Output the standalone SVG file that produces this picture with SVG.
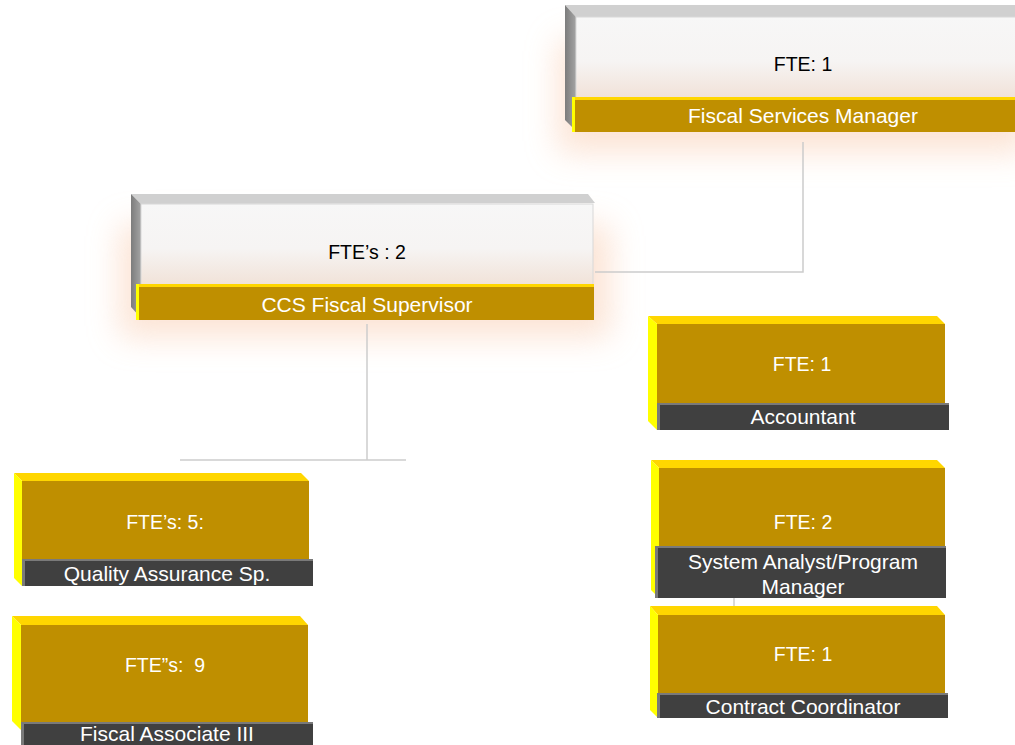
<svg xmlns="http://www.w3.org/2000/svg" width="1015" height="745" viewBox="0 0 1015 745">
  <defs>
    <linearGradient id="faceLight" x1="0" y1="0" x2="0" y2="1">
      <stop offset="0" stop-color="#f7f7f7"/>
      <stop offset="0.55" stop-color="#f6f4f3"/>
      <stop offset="1" stop-color="#f1e2d8"/>
    </linearGradient>
    <linearGradient id="bevelGray" x1="0" y1="0" x2="1" y2="0">
      <stop offset="0" stop-color="#7c7c7c"/>
      <stop offset="1" stop-color="#a4a4a4"/>
    </linearGradient>
    <filter id="glow" x="-20%" y="-40%" width="140%" height="180%">
      <feGaussianBlur stdDeviation="16"/>
    </filter>
    <style>
      .glow { fill: #fbd8c2; opacity: 0.7; filter: url(#glow); }
      .topL { fill: #d0d0d0; }
      .sideL { fill: url(#bevelGray); }
      .faceL { fill: url(#faceLight); stroke: #d8d8d8; stroke-width: 1; }
      .gold { fill: #bf8f00; }
      .topY { fill: #ffd600; }
      .sideY { fill: #ffff00; }
      .dark { fill: #404040; }
      .darkEdge { fill: #7a7a7a; }
      .conn { fill: none; stroke: #cccccc; stroke-width: 1.5; }
      text { font-family: "Liberation Sans", Arial, sans-serif; text-anchor: middle; white-space: pre; }
      .fteB { font-size: 19.5px; fill: #000000; }
      .fteW { font-size: 19.5px; fill: #ffffff; }
      .lbl { font-size: 21px; fill: #ffffff; }
    </style>
  </defs>

  <rect width="1015" height="745" fill="#ffffff"/>

  <!-- soft halos behind the two upper boxes -->
  <rect class="glow" x="558" y="40" width="470" height="112"/>
  <rect class="glow" x="120" y="225" width="490" height="112"/>

  <!-- connectors -->
  <g id="connectors">
    <path class="conn" d="M803 142 V272 H595"/>
    <path class="conn" d="M367 324 V460"/>
    <path class="conn" d="M180 460 H406"/>
    <path class="conn" d="M734 598 V606"/>
  </g>

  <!-- Fiscal Services Manager -->
  <g id="node-fiscal-services-manager">
    <polygon class="topL" points="565,5 1020,5 1020,17 576,17"/>
    <polygon class="sideL" points="565,5 576,17 576,131 565,120"/>
    <rect class="faceL" x="576" y="17" width="450" height="81"/>
    <rect class="gold" x="572" y="97" width="450" height="35"/>
    <rect class="topY" x="572" y="97" width="450" height="3"/>
    <rect class="sideY" x="572" y="97" width="3" height="35"/>
    <text class="fteB" x="803" y="71">FTE: 1</text>
    <text class="lbl" x="803" y="123">Fiscal Services Manager</text>
  </g>

  <!-- CCS Fiscal Supervisor -->
  <g id="node-ccs-fiscal-supervisor">
    <polygon class="topL" points="131,194 588,194 595,203 141,204"/>
    <polygon class="sideL" points="131,194 141,204 141,318 131,307"/>
    <rect class="faceL" x="141" y="204" width="452" height="81"/>
    <rect class="gold" x="136" y="284" width="458" height="36"/>
    <rect class="topY" x="136" y="284" width="458" height="3"/>
    <rect class="sideY" x="136" y="284" width="3" height="36"/>
    <text class="fteB" x="367" y="259">FTE’s : 2</text>
    <text class="lbl" x="367" y="312">CCS Fiscal Supervisor</text>
  </g>

  <!-- Accountant -->
  <g id="node-accountant">
    <polygon class="topY" points="648,316 937,316 945,324 657,324"/>
    <polygon class="sideY" points="648,316 657,324 657,430 648,421"/>
    <rect class="gold" x="657" y="324" width="288" height="80"/>
    <rect class="dark" x="657" y="403" width="292" height="27"/>
    <rect class="darkEdge" x="657" y="403" width="292" height="2"/>
    <rect class="darkEdge" x="657" y="403" width="3" height="27"/>
    <text class="fteW" x="802" y="371">FTE: 1</text>
    <text class="lbl" x="803" y="424">Accountant</text>
  </g>

  <!-- System Analyst/Program Manager -->
  <g id="node-system-analyst">
    <polygon class="topY" points="651,460 937,460 945,468 659,468"/>
    <polygon class="sideY" points="651,460 659,468 659,598 651,590"/>
    <rect class="gold" x="659" y="468" width="286" height="79"/>
    <rect class="dark" x="655" y="546" width="291" height="52"/>
    <rect class="darkEdge" x="655" y="546" width="291" height="2"/>
    <rect class="darkEdge" x="655" y="546" width="3" height="52"/>
    <text class="fteW" x="803" y="529">FTE: 2</text>
    <text class="lbl" x="803" y="569">System Analyst/Program</text>
    <text class="lbl" x="803" y="594">Manager</text>
  </g>

  <!-- Contract Coordinator -->
  <g id="node-contract-coordinator">
    <polygon class="topY" points="650,606 937,606 945,615 658,615"/>
    <polygon class="sideY" points="650,606 658,615 658,718 650,710"/>
    <rect class="gold" x="658" y="615" width="287" height="79"/>
    <rect class="dark" x="657" y="693" width="291" height="25"/>
    <rect class="darkEdge" x="657" y="693" width="291" height="2"/>
    <rect class="darkEdge" x="657" y="693" width="3" height="25"/>
    <text class="fteW" x="803" y="661">FTE: 1</text>
    <text class="lbl" x="803" y="714">Contract Coordinator</text>
  </g>

  <!-- Quality Assurance Sp. -->
  <g id="node-quality-assurance">
    <polygon class="topY" points="14,473 301,473 309,481 22,481"/>
    <polygon class="sideY" points="14,473 22,481 22,586 14,578"/>
    <rect class="gold" x="22" y="481" width="287" height="79"/>
    <rect class="dark" x="22" y="559" width="291" height="27"/>
    <rect class="darkEdge" x="22" y="559" width="291" height="2"/>
    <rect class="darkEdge" x="22" y="559" width="3" height="27"/>
    <text class="fteW" x="165" y="529">FTE’s: 5:</text>
    <text class="lbl" x="167" y="581">Quality Assurance Sp.</text>
  </g>

  <!-- Fiscal Associate III -->
  <g id="node-fiscal-associate">
    <polygon class="topY" points="12,616 300,616 308,625 21,625"/>
    <polygon class="sideY" points="12,616 21,625 21,730 12,721"/>
    <rect class="gold" x="21" y="625" width="287" height="98"/>
    <rect class="dark" x="21" y="722" width="292" height="30"/>
    <rect class="darkEdge" x="21" y="722" width="292" height="2"/>
    <rect class="darkEdge" x="21" y="722" width="3" height="30"/>
    <text class="fteW" x="165" y="672">FTE”s:  9</text>
    <text class="lbl" x="167" y="741">Fiscal Associate III</text>
  </g>
</svg>
